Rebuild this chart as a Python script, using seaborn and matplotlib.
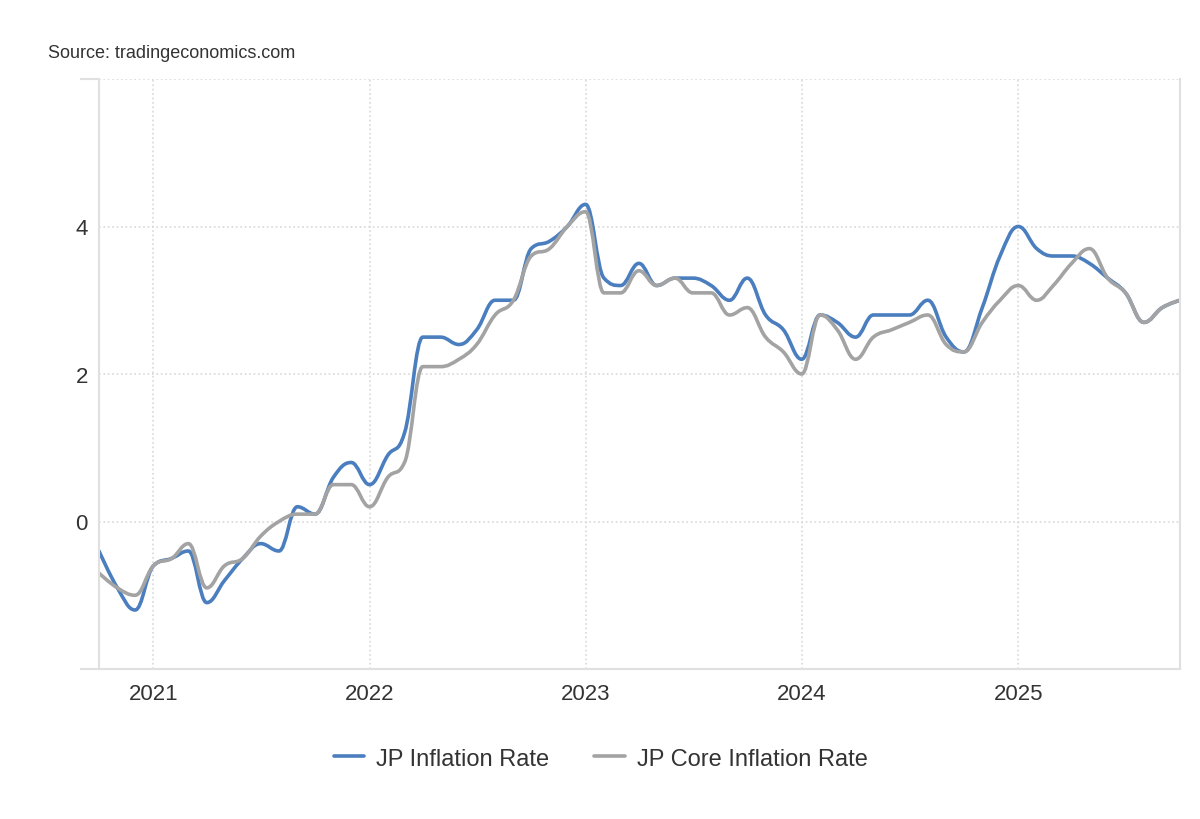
import pandas as pd
import seaborn as sns
import matplotlib.pyplot as plt
from matplotlib.path import Path
from matplotlib.patches import PathPatch

# monthly readings, Oct 2020 .. Oct 2025 (year-on-year, %)
months = pd.date_range("2020-10-01", "2025-10-01", freq="MS")

headline = [
    -0.4, -0.9, -1.2,
    -0.6, -0.5, -0.4, -1.1, -0.8, -0.5, -0.3, -0.4, 0.2, 0.1, 0.6, 0.8,
    0.5, 0.9, 1.2, 2.5, 2.5, 2.4, 2.6, 3.0, 3.0, 3.7, 3.8, 4.0,
    4.3, 3.3, 3.2, 3.5, 3.2, 3.3, 3.3, 3.2, 3.0, 3.3, 2.8, 2.6,
    2.2, 2.8, 2.7, 2.5, 2.8, 2.8, 2.8, 3.0, 2.5, 2.3, 2.9, 3.6,
    4.0, 3.7, 3.6, 3.6, 3.5, 3.3, 3.1, 2.7, 2.9, 3.0,
]
core = [
    -0.7, -0.9, -1.0,
    -0.6, -0.5, -0.3, -0.9, -0.6, -0.5, -0.2, 0.0, 0.1, 0.1, 0.5, 0.5,
    0.2, 0.6, 0.8, 2.1, 2.1, 2.2, 2.4, 2.8, 3.0, 3.6, 3.7, 4.0,
    4.2, 3.1, 3.1, 3.4, 3.2, 3.3, 3.1, 3.1, 2.8, 2.9, 2.5, 2.3,
    2.0, 2.8, 2.6, 2.2, 2.5, 2.6, 2.7, 2.8, 2.4, 2.3, 2.7, 3.0,
    3.2, 3.0, 3.2, 3.5, 3.7, 3.3, 3.1, 2.7, 2.9, 3.0,
]

series_names = ["JP Inflation Rate", "JP Core Inflation Rate"]
year_ticks = pd.to_datetime(["2021-01-01", "2022-01-01", "2023-01-01", "2024-01-01", "2025-01-01"])
year_labels = ["2021", "2022", "2023", "2024", "2025"]
y_ticks = [-2, 0, 2, 4, 6]
y_labels = ["", "0", "2", "4", ""]


def spline_path(pts, smoothing=1.5):
    # cubic bezier through the points, control points placed like a "spline" chart
    n = len(pts)
    verts = [tuple(pts[0])]
    codes = [Path.MOVETO]
    ctrl = []
    for i in range(n):
        x, y = pts[i]
        if i == 0 or i == n - 1:
            ctrl.append(((x, y), (x, y)))
            continue
        lx, ly = pts[i - 1]
        nx, ny = pts[i + 1]
        d = smoothing + 1
        lcx, lcy = (smoothing * x + lx) / d, (smoothing * y + ly) / d
        rcx, rcy = (smoothing * x + nx) / d, (smoothing * y + ny) / d
        corr = (rcy - lcy) * (rcx - x) / (rcx - lcx) + y - rcy
        lcy += corr
        rcy += corr
        if lcy > ly and lcy > y:
            lcy = max(ly, y)
            rcy = 2 * y - lcy
        elif lcy < ly and lcy < y:
            lcy = min(ly, y)
            rcy = 2 * y - lcy
        if rcy > ny and rcy > y:
            rcy = max(ny, y)
            lcy = 2 * y - rcy
        elif rcy < ny and rcy < y:
            rcy = min(ny, y)
            lcy = 2 * y - rcy
        ctrl.append(((lcx, lcy), (rcx, rcy)))
    for i in range(1, n):
        verts += [ctrl[i - 1][1], ctrl[i][0], tuple(pts[i])]
        codes += [Path.CURVE4] * 3
    return Path(verts, codes)


df = pd.concat([
    pd.DataFrame({"date": months, "value": headline, "series": series_names[0]}),
    pd.DataFrame({"date": months, "value": core, "series": series_names[1]}),
])

sns.set_theme(style="white")
plt.rcParams["font.family"] = ["Liberation Sans", "DejaVu Sans"]

fig = plt.figure(figsize=(12, 8.2), dpi=100)
ax = fig.add_axes([99 / 1200, 1 - 670 / 820, 1081 / 1200, 590 / 820])

palette = {series_names[0]: "#4a7ebf", series_names[1]: "#a3a3a3"}
sns.lineplot(data=df, x="date", y="value", hue="series", palette=palette,
             linewidth=2.6, ax=ax, estimator=None)

# redraw seaborn's lines as smooth curves
for line in list(ax.lines):
    pts = line.get_xydata()
    if len(pts) < 3:
        continue
    ax.add_patch(PathPatch(spline_path(pts), facecolor="none", edgecolor=line.get_color(),
                           linewidth=line.get_linewidth(), capstyle="round",
                           joinstyle="round", zorder=line.get_zorder()))
    line.set_visible(False)

ax.set_xlim(months[0], months[-1])
ax.set_ylim(-2, 6)
ax.set_xticks(year_ticks)
ax.set_xticklabels(year_labels)
ax.set_yticks(y_ticks)
ax.set_yticklabels(y_labels)
ax.yaxis.remove_overlapping_locs = False
ax.set_yticks([-2, 6], minor=True)
ax.set_xlabel("")
ax.set_ylabel("")

ax.grid(True, which="major", linestyle=":", color="#d8d8d8", linewidth=1.2)
ax.tick_params(axis="both", which="major", length=0, labelsize=16, colors="#333333")
ax.tick_params(axis="x", pad=10)
ax.tick_params(axis="y", pad=8)
ax.tick_params(axis="y", which="minor", length=14, width=1.5, color="#e0e0e0", left=True)

for side in ["left", "right", "bottom"]:
    ax.spines[side].set_visible(True)
    ax.spines[side].set_color("#e0e0e0")
    ax.spines[side].set_linewidth(1.5)
ax.spines["top"].set_visible(False)

sns.move_legend(ax, "center", bbox_to_anchor=(0.464, -0.152), ncol=2, frameon=False,
                title=None, fontsize=17, handlelength=1.3, handletextpad=0.5,
                columnspacing=1.9)
for txt in ax.get_legend().get_texts():
    txt.set_color("#333333")

fig.text(48 / 1200, 1 - 53 / 820, "Source: tradingeconomics.com", fontsize=13,
         color="#333333", va="center", ha="left")

fig.savefig("out.png", dpi=100)
